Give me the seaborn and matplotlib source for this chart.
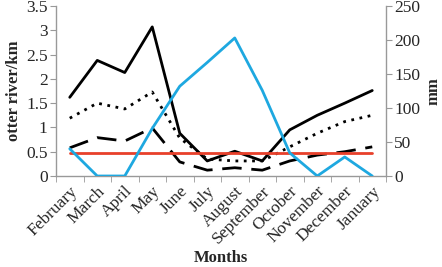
import matplotlib
matplotlib.use("Agg")
import matplotlib.pyplot as plt
import seaborn as sns
import numpy as np
import pandas as pd

months = ["February", "March", "April", "May", "June", "July", "August",
          "September", "October", "November", "December", "January"]
solid = [1.62, 2.38, 2.13, 3.07, 0.88, 0.31, 0.51, 0.31, 0.95, 1.25, 1.50, 1.76]
dotted = [1.19, 1.50, 1.38, 1.73, 0.78, 0.35, 0.31, 0.31, 0.60, 0.88, 1.12, 1.25]
dashed = [0.58, 0.79, 0.72, 0.99, 0.29, 0.12, 0.17, 0.12, 0.31, 0.43, 0.50, 0.60]
threshold = [0.47] * 12
rain_mm = [40, 0, 0, 70, 132, 167, 203, 126, 34, 0, 28, 0]

sns.set_style("white")
plt.rcParams['font.family'] = ['Liberation Serif', 'DejaVu Serif']

fig = plt.figure(figsize=(4.42, 2.67), dpi=100)
ax = fig.add_axes([56/442, 1-176/267, 330/442, 170/267])
ax2 = ax.twinx()

pos = np.arange(len(months))
df = pd.DataFrame({"pos": pos, "solid": solid, "dotted": dotted,
                   "dashed": dashed, "thr": threshold, "rain": rain_mm})

sns.lineplot(data=df, x="pos", y="solid", ax=ax, color="black", lw=2.0)
sns.lineplot(data=df, x="pos", y="dotted", ax=ax, color="black", lw=2.0,
             linestyle=(0, (1, 2)))
sns.lineplot(data=df, x="pos", y="dashed", ax=ax, color="black", lw=2.0,
             linestyle=(0, (7, 3.5)))
sns.lineplot(data=df, x="pos", y="thr", ax=ax, color="#e8402a", lw=2.0)
sns.lineplot(data=df, x="pos", y="rain", ax=ax2, color="#1ea8e0", lw=2.0)

ax.set_xlim(-0.5, len(months) - 0.5)
ax.set_ylim(0, 3.5)
ax2.set_ylim(0, 250)
ax.set_yticks(np.arange(0, 3.51, 0.5))
ax.set_yticklabels(["0", "0.5", "1", "1.5", "2", "2.5", "3", "3.5"])
ax2.set_yticks(np.arange(0, 251, 50))

ax.set_xticks(pos)
ax.set_xticklabels(months, rotation=45, ha="right", rotation_mode="anchor")
ax.set_xticks(np.arange(-0.5, len(months), 1), minor=True)
ax.tick_params(axis="x", which="major", length=0, pad=5, labelsize=12.5)
ax.tick_params(axis="x", which="minor", length=4, color="#999999", direction="out", bottom=True)
ax.tick_params(axis="y", length=4, color="#999999", direction="out", left=True, labelsize=12.5, pad=2)
ax2.tick_params(axis="y", length=4, color="#999999", direction="out", right=True, labelsize=12.5, pad=2)

for a in (ax, ax2):
    a.spines["top"].set_visible(False)
    for s in ("left", "right", "bottom"):
        a.spines[s].set_color("#999999")
        a.spines[s].set_linewidth(1.0)
ax.spines["right"].set_visible(False)
ax2.spines["left"].set_visible(False)
ax2.spines["bottom"].set_visible(False)

ax.set_xlabel("Months", fontweight="bold", fontsize=12, labelpad=2)
ax.set_ylabel("otter river/km", fontweight="bold", fontsize=12, labelpad=3)
ax2.set_ylabel("mm", fontweight="bold", fontsize=12, labelpad=4)

fig.savefig("out.png", dpi=100)
